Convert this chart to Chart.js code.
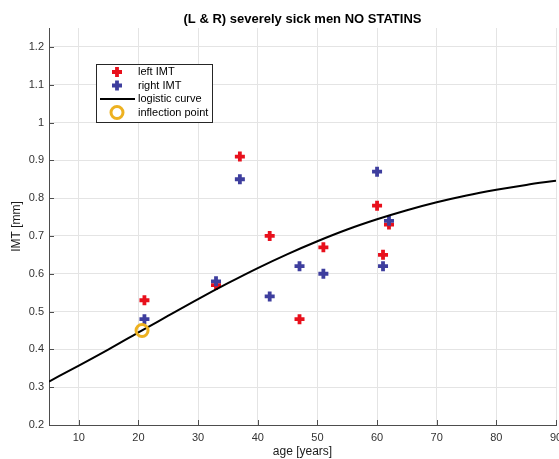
<!DOCTYPE html>
<html>
<head>
<meta charset="utf-8">
<title>IMT vs age</title>
<script src="https://cdn.jsdelivr.net/npm/chart.js@4/dist/chart.umd.min.js"></script>
<style>
  html, body { margin: 0; padding: 0; background: #fff; }
  #chart { display: block; }
</style>
</head>
<body>
<canvas id="chart" width="559" height="459"></canvas>
<script>
// Measured intima-media thickness, left and right carotid
const ageLeft  = [21, 33, 37, 42, 47, 51, 60, 61, 62];
const imtLeft  = [0.53, 0.57, 0.91, 0.70, 0.48, 0.67, 0.78, 0.65, 0.73];
const ageRight = [21, 33, 37, 42, 47, 51, 60, 61, 62];
const imtRight = [0.48, 0.58, 0.85, 0.54, 0.62, 0.60, 0.87, 0.62, 0.74];

// Fitted logistic curve, sampled every 5 years
const curveAge = [5, 10, 15, 20, 25, 30, 35, 40, 45, 50, 55, 60, 65, 70, 75, 80, 85, 90];
const curveImt = [0.315, 0.357, 0.400, 0.445, 0.489, 0.533, 0.575, 0.615, 0.652,
                  0.686, 0.717, 0.744, 0.768, 0.789, 0.807, 0.822, 0.835, 0.846];

// Inflection point of the curve
const inflectionAge = [20.6];
const inflectionImt = [0.45];

// Axis ticks
const xTickValues = [10, 20, 30, 40, 50, 60, 70, 80, 90];
const yTickValues = [0.2, 0.3, 0.4, 0.5, 0.6, 0.7, 0.8, 0.9, 1.0, 1.1, 1.2];

const legendLabels = ['left IMT', 'right IMT', 'logistic curve', 'inflection point'];

const RED = 'rgb(232, 16, 28)';
const BLUE = 'rgb(62, 62, 158)';
const ORANGE = '#EDB120';
const FONT = "'Liberation Sans', Arial, Helvetica, sans-serif";

const toPoints = (xs, ys) => xs.map((x, i) => ({ x: x, y: ys[i] }));

// Inward-pointing tick marks and the boxed legend inside the axes
const axesExtras = {
  id: 'axesExtras',
  afterDraw(chart) {
    const ctx = chart.ctx;
    const area = chart.chartArea;
    const xs = chart.scales.x, ys = chart.scales.y;
    ctx.save();
    ctx.strokeStyle = '#4d4d4d';
    ctx.lineWidth = 1;
    ctx.beginPath();
    xTickValues.forEach(v => {
      const px = Math.round(xs.getPixelForValue(v)) + 0.5;
      ctx.moveTo(px, area.bottom);
      ctx.lineTo(px, area.bottom - 5);
    });
    yTickValues.forEach(v => {
      const py = Math.round(ys.getPixelForValue(v)) + 0.5;
      ctx.moveTo(area.left, py);
      ctx.lineTo(area.left + 5, py);
    });
    ctx.stroke();

    // legend box
    const bx = 96.5, by = 64.5, bw = 116, bh = 58;
    ctx.fillStyle = '#fff';
    ctx.fillRect(bx, by, bw, bh);
    ctx.strokeStyle = '#262626';
    ctx.lineWidth = 1;
    ctx.strokeRect(bx, by, bw, bh);

    const rows = [72, 85.5, 99, 112.5];
    const symX = 117;
    const textX = 138;
    const order = [2, 3, 1, 0]; // dataset index per legend row
    order.forEach((dsIndex, r) => {
      const ds = chart.data.datasets[dsIndex];
      const y = rows[r];
      ctx.beginPath();
      if (ds.showLine) {
        ctx.strokeStyle = ds.borderColor;
        ctx.lineWidth = ds.borderWidth;
        ctx.moveTo(100, y);
        ctx.lineTo(135, y);
      } else {
        ctx.strokeStyle = ds.pointBorderColor;
        ctx.lineWidth = ds.pointBorderWidth;
        const rr = ds.pointRadius;
        if (ds.pointStyle === 'cross') {
          ctx.moveTo(symX - rr, y); ctx.lineTo(symX + rr, y);
          ctx.moveTo(symX, y - rr); ctx.lineTo(symX, y + rr);
        } else {
          ctx.arc(symX, y, rr, 0, Math.PI * 2);
        }
      }
      ctx.stroke();
      ctx.fillStyle = '#000';
      ctx.font = '11px ' + FONT;
      ctx.textAlign = 'left';
      ctx.textBaseline = 'middle';
      ctx.fillText(legendLabels[r], textX, y);
    });
    ctx.restore();
  }
};

new Chart(document.getElementById('chart'), {
  type: 'scatter',
  data: {
    datasets: [
      {
        label: legendLabels[3],
        data: toPoints(inflectionAge, inflectionImt),
        pointStyle: 'circle',
        pointRadius: 6,
        pointBorderWidth: 3,
        pointBorderColor: ORANGE,
        pointBackgroundColor: 'rgba(0,0,0,0)',
        showLine: false,
        order: 0
      },
      {
        label: legendLabels[2],
        data: toPoints(curveAge, curveImt),
        showLine: true,
        borderColor: '#000',
        borderWidth: 2,
        pointRadius: 0,
        cubicInterpolationMode: 'monotone',
        fill: false,
        order: 1
      },
      {
        label: legendLabels[0],
        data: toPoints(ageLeft, imtLeft),
        pointStyle: 'cross',
        pointRadius: 5,
        pointBorderWidth: 3.8,
        pointBorderColor: RED,
        pointBackgroundColor: RED,
        showLine: false,
        order: 3
      },
      {
        label: legendLabels[1],
        data: toPoints(ageRight, imtRight),
        pointStyle: 'cross',
        pointRadius: 5,
        pointBorderWidth: 3.8,
        pointBorderColor: BLUE,
        pointBackgroundColor: BLUE,
        showLine: false,
        order: 2
      }
    ]
  },
  options: {
    responsive: false,
    animation: false,
    devicePixelRatio: 1,
    layout: { autoPadding: false, padding: { left: 0, right: 3, top: 0, bottom: 0 } },
    plugins: {
      legend: { display: false },
      tooltip: { enabled: false },
      title: {
        display: true,
        fullSize: false,
        text: '(L & R) severely sick men NO STATINS',
        color: '#000',
        font: { family: FONT, size: 13, weight: 'bold', lineHeight: 1.2 },
        padding: { top: 11.5, bottom: 0.9 }
      }
    },
    scales: {
      x: {
        type: 'linear',
        min: 5,
        max: 90,
        afterBuildTicks(scale) { scale.ticks = xTickValues.map(v => ({ value: v })); },
        afterFit(scale) {
          scale.height = 34;
          scale.paddingLeft = 0;
          scale.paddingRight = 0;
        },
        ticks: {
          color: '#333',
          font: { family: FONT, size: 11 },
          padding: 6,
          maxRotation: 0,
          autoSkip: false
        },
        grid: { color: '#e4e4e4', lineWidth: 1, drawTicks: false, tickLength: 0 },
        border: { display: true, color: '#4d4d4d', width: 1 },
        title: {
          display: true,
          text: 'age [years]',
          color: '#1a1a1a',
          font: { family: FONT, size: 12 },
          padding: { top: 0, bottom: 0 }
        }
      },
      y: {
        type: 'linear',
        min: 0.2,
        max: 1.25,
        afterBuildTicks(scale) { scale.ticks = yTickValues.map(v => ({ value: v })); },
        afterFit(scale) {
          scale.width = 49;
          scale.paddingTop = 0;
          scale.paddingBottom = 0;
        },
        ticks: {
          color: '#333',
          font: { family: FONT, size: 11 },
          padding: 5,
          callback: v => String(Math.round(v * 10) / 10)
        },
        grid: { color: '#e4e4e4', lineWidth: 1, drawTicks: false, tickLength: 0 },
        border: { display: true, color: '#4d4d4d', width: 1 },
        title: {
          display: true,
          text: 'IMT [mm]',
          color: '#1a1a1a',
          font: { family: FONT, size: 12 },
          padding: { top: 9, bottom: 0 }
        }
      }
    }
  },
  plugins: [axesExtras]
});
</script>
</body>
</html>
